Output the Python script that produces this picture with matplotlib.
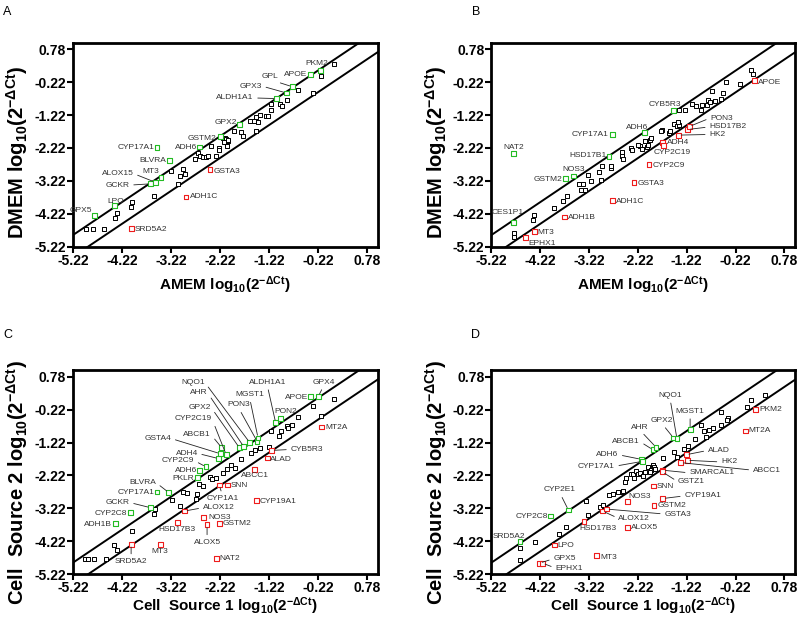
import numpy as np
import matplotlib
matplotlib.use("Agg")
from matplotlib import pyplot as plt

### data ###

TICKS = [-5.22, -4.22, -3.22, -2.22, -1.22, -0.22, 0.78]

# panel A : AMEM vs DMEM
a_other_x = [-4.95, -4.80, -4.58, -4.32, -4.35, -4.04, -4.01, -3.57, -3.21, -3.07, -3.03, -2.98, -2.93,
             -2.67, -2.63, -2.72, -2.57, -2.50, -2.47, -2.30, -2.40, -2.24, -2.24, -2.12, -2.06, -2.08,
             -2.15, -2.09, -2.06, -2.13, -2.07, -1.93, -1.78, -1.74, -1.61, -1.53, -1.49, -1.41, -1.44,
             -1.48, -1.27, -1.23, -1.17, -1.17, -1.00, -0.96, -0.85, -0.63, -0.32, -0.15, 0.11]
a_other_y = [-4.67, -4.67, -4.67, -4.21, -4.36, -4.02, -3.86, -3.68, -2.91, -3.33, -3.06, -2.86, -3.00,
             -2.37, -2.47, -2.55, -2.48, -2.51, -2.47, -2.45, -2.15, -2.22, -2.29, -1.92, -2.02, -2.14,
             -1.92, -1.95, -1.97, -2.04, -2.15, -1.71, -1.73, -1.86, -1.41, -1.41, -1.29, -1.21, -1.44,
             -1.71, -1.26, -1.26, -1.07, -0.88, -0.88, -0.95, -0.77, -0.45, -0.55, -0.02, 0.33]
a_genes = ["GPX5", "LPO", "GCKR", "ALOX15", "MT3", "BLVRA", "CYP17A1", "ADH6", "GSTM2", "GPX2",
           "ALDH1A1", "GPX3", "GPL", "APOE", "PKM2", "SRD5A2", "ADH1C", "GSTA3"]
a_gene_x = [-4.78, -4.37, -3.63, -3.54, -3.42, -3.25, -3.50, -2.63, -2.21, -1.82,
            -1.06, -0.86, -0.74, -0.37, -0.17, -4.03, -2.91, -2.42]
a_gene_y = [-4.27, -3.98, -3.31, -3.26, -3.11, -2.59, -2.21, -2.19, -1.88, -1.51,
            -0.72, -0.55, -0.36, 0.01, 0.13, -4.66, -3.71, -2.88]
a_gene_dir = ["up"] * 15 + ["down"] * 3

# panel B : AMEM vs DMEM
b_other_x = [-4.76, -4.76, -4.34, -4.36, -3.93, -3.76, -3.66, -3.42, -3.34, -3.38, -3.30, -3.23, -3.17,
             -3.01, -2.96, -2.98, -2.76, -2.76, -2.55, -2.55, -2.53, -2.36, -2.34, -2.18, -2.21, -2.08,
             -2.13, -2.04, -2.02, -2.07, -1.97, -1.96, -1.73, -1.59, -1.56, -1.75, -1.49, -1.42, -1.37,
             -1.39, -1.38, -1.25, -1.12, -1.02, -0.91, -0.93, -0.81, -0.78, -0.74, -0.64, -0.71, -0.51,
             -0.47, -0.42, -0.13, 0.09, 0.14]
b_other_y = [-4.80, -4.93, -4.27, -4.40, -4.06, -3.84, -3.69, -3.33, -3.33, -3.51, -3.49, -3.05, -3.23,
             -2.96, -2.78, -3.18, -2.83, -2.76, -2.34, -2.47, -2.57, -2.22, -2.27, -2.17, -2.13, -2.02,
             -2.25, -2.18, -2.12, -2.02, -1.97, -1.92, -1.66, -1.76, -1.69, -1.71, -1.50, -1.55, -1.53,
             -1.43, -1.07, -1.07, -0.88, -0.93, -0.92, -1.07, -0.90, -0.75, -0.83, -0.80, -0.50, -0.72,
             -0.55, -0.23, -0.29, 0.16, 0.04]
b_genes = ["NAT2", "CES1P1", "GSTM2", "NOS3", "HSD17B1", "CYP17A1", "ADH6", "CYB5R3",
           "EPHX1", "MT3", "ADH1B", "ADH1C", "GSTA3", "CYP2C9", "ADH4", "CYP2C19", "HK2",
           "HSD17B2", "PON3", "APOE"]
b_gene_x = [-4.76, -4.76, -3.70, -3.53, -2.81, -2.74, -2.08, -1.49,
            -4.51, -4.34, -3.72, -2.74, -2.30, -1.99, -1.71, -1.70, -1.39, -1.20, -1.17, 0.16]
b_gene_y = [-2.40, -4.48, -3.16, -3.07, -2.48, -1.80, -1.76, -1.08,
            -4.93, -4.75, -4.32, -3.81, -3.26, -2.73, -2.05, -2.15, -1.83, -1.66, -1.57, -0.17]
b_gene_dir = ["up"] * 8 + ["down"] * 12

# panel C : cell source 1 vs cell source 2
c_other_x = [-4.98, -4.91, -4.78, -4.55, -4.37, -4.31, -4.01, -3.54, -3.56, -3.20, -2.98, -2.89, -3.03,
             -2.68, -2.70, -2.65, -2.57, -2.41, -2.38, -2.29, -2.15, -2.07, -2.00, -1.92, -1.78, -1.59,
             -1.51, -1.40, -1.22, -1.17, -1.02, -0.98, -0.85, -0.83, -0.74, -0.62, -0.32, -0.15, 0.11]
c_other_y = [-4.75, -4.75, -4.75, -4.75, -4.33, -4.48, -3.90, -3.24, -3.40, -2.97, -2.72, -2.74, -3.14,
             -2.77, -2.92, -2.49, -2.53, -2.26, -2.34, -2.31, -2.14, -2.01, -1.91, -2.00, -1.71, -1.53,
             -1.46, -1.39, -1.37, -0.88, -1.02, -0.87, -0.72, -0.78, -0.70, -0.45, -0.10, -0.40, 0.11]
c_genes = ["ADH1B", "CYP2C8", "GCKR", "CYP17A1", "BLVRA", "PKLR", "ADH6", "CYP2C9", "ADH4", "GSTA4",
           "ABCB1", "CYP2C19", "GPX2", "AHR", "NQO1", "PON3", "MGST1", "ALDH1A1", "PON2", "APOE", "GPX4",
           "SRD5A2", "MT3", "HSD17B3", "ALOX12", "NOS3", "ALOX5", "NAT2", "GSTM2", "CYP1A1", "SNN",
           "ABCC1", "CYP19A1", "ALAD", "CYB5R3", "MT2A"]
c_gene_x = [-4.35, -4.04, -3.63, -3.50, -3.26, -2.67, -2.63, -2.50, -2.24, -2.21,
            -2.18, -2.09, -1.82, -1.73, -1.61, -1.46, -1.44, -1.08, -0.98, -0.37, -0.21,
            -4.03, -3.43, -3.08, -2.94, -2.55, -2.48, -2.29, -2.23, -2.23, -2.07,
            -1.51, -1.47, -1.25, -1.16, -0.15]
c_gene_y = [-3.68, -3.35, -3.20, -2.72, -2.74, -2.29, -2.06, -1.96, -1.71, -1.56,
            -1.38, -1.59, -1.38, -1.35, -1.22, -1.18, -1.08, -0.62, -0.48, 0.18, 0.18,
            -4.31, -4.31, -3.64, -3.30, -3.50, -3.72, -4.73, -3.67, -2.51, -2.51,
            -2.03, -2.99, -1.69, -1.46, -0.75]
c_gene_dir = ["up"] * 21 + ["down"] * 15

# panel D : cell source 1 vs cell source 2
d_other_x = [-4.63, -4.63, -4.32, -3.83, -3.68, -3.23, -3.28, -3.00, -2.93, -2.80, -2.72, -2.62, -2.55,
             -2.53, -2.48, -2.46, -2.35, -2.32, -2.29, -2.25, -2.21, -2.18, -2.11, -2.08, -2.01, -1.96,
             -1.91, -1.88, -1.98, -1.86, -1.70, -1.49, -1.42, -1.28, -1.20, -1.04, -0.93, -0.86, -0.83,
             -0.76, -0.68, -0.52, -0.38, -0.40, -0.51, 0.02, 0.09, 0.39]
d_other_y = [-4.43, -4.78, -4.25, -3.99, -3.77, -3.42, -3.00, -3.17, -3.12, -2.82, -2.77, -2.72, -2.73,
             -2.70, -2.41, -2.31, -2.19, -2.17, -2.31, -2.09, -2.19, -2.13, -2.24, -2.12, -1.97, -2.05,
             -1.89, -1.97, -2.11, -2.01, -1.69, -1.51, -1.66, -1.43, -1.33, -1.10, -0.70, -0.87, -1.05,
             -0.83, -0.77, -0.70, -0.48, -0.53, -0.30, -0.13, 0.08, 0.21]
d_genes = ["SRD5A2", "CYP2C8", "CYP2E1", "ADH6", "CYP17A1", "ABCB1", "AHR", "GPX2", "NQO1", "MGST1",
           "GPX5", "EPHX1", "LPO", "MT3", "HSD17B3", "ALOX12", "GSTA3", "NOS3", "ALOX5", "GSTM2",
           "SNN", "CYP19A1", "SMARCAL1", "GSTZ1", "ABCC1", "HK2", "ALAD", "MT2A", "PKM2"]
d_gene_x = [-4.63, -4.00, -3.64, -2.15, -2.12, -1.91, -1.85, -1.49, -1.42, -1.15,
            -4.23, -4.17, -3.93, -3.06, -3.32, -2.94, -2.86, -2.43, -2.43, -1.89,
            -1.90, -1.71, -1.71, -1.72, -1.34, -1.21, -1.23, -0.02, 0.18]
d_gene_y = [-4.23, -3.45, -3.27, -1.73, -1.79, -1.44, -1.36, -1.08, -1.10, -0.83,
            -4.88, -4.88, -4.33, -4.66, -3.62, -3.30, -3.24, -3.02, -3.79, -3.12,
            -2.54, -2.92, -2.06, -2.11, -1.83, -1.76, -1.59, -0.87, -0.22]
d_gene_dir = ["up"] * 10 + ["down"] * 19

### label layout: text x, text y, side of the point, leader line ###

a_labels = {
    "GPX5": (-4.83, -4.12, "l", False), "LPO": (-4.34, -3.84, "a", False),
    "SRD5A2": (-3.96, -4.70, "r", False), "GCKR": (-4.06, -3.35, "l", True),
    "ALOX15": (-3.98, -3.00, "l", True), "MT3": (-3.63, -2.93, "a", False),
    "BLVRA": (-3.31, -2.59, "l", False), "CYP17A1": (-3.55, -2.21, "l", False),
    "ADH6": (-2.68, -2.21, "l", False), "GSTM2": (-2.28, -1.92, "l", False),
    "GSTA3": (-2.34, -2.93, "r", False), "ADH1C": (-2.83, -3.71, "r", False),
    "GPX2": (-1.87, -1.44, "l", False), "ALDH1A1": (-1.53, -0.70, "l", True),
    "GPX3": (-1.36, -0.34, "l", True), "GPL": (-1.19, -0.04, "a", True),
    "APOE": (-0.44, 0.01, "l", False), "PKM2": (-0.25, 0.34, "a", False),
}
b_labels = {
    "NAT2": (-4.76, -2.22, "a", False), "CES1P1": (-4.88, -4.17, "a", False),
    "EPHX1": (-4.46, -5.11, "r", False), "MT3": (-4.27, -4.80, "r", False),
    "ADH1B": (-3.64, -4.32, "r", False), "GSTM2": (-3.76, -3.18, "l", False),
    "NOS3": (-3.53, -2.88, "a", False), "HSD17B1": (-2.86, -2.44, "l", False),
    "CYP17A1": (-2.81, -1.80, "l", False), "GSTA3": (-2.23, -3.30, "r", False),
    "ADH1C": (-2.66, -3.84, "r", False), "ADH6": (-2.23, -1.59, "a", False),
    "APOE": (0.24, -0.24, "r", False), "CYB5R3": (-1.66, -0.90, "a", False),
    "PON3": (-0.74, -1.31, "r", True), "HSD17B2": (-0.76, -1.58, "r", True),
    "HK2": (-0.76, -1.81, "r", True), "ADH4": (-1.63, -2.05, "r", False),
    "CYP2C19": (-1.51, -2.35, "b", False), "CYP2C9": (-1.91, -2.76, "r", False),
}
c_labels = {
    "SRD5A2": (-4.03, -4.83, "b", True), "MT3": (-3.45, -4.53, "b", False),
    "ADH1B": (-4.42, -3.70, "l", False), "CYP2C8": (-4.11, -3.37, "l", False),
    "GCKR": (-4.06, -3.04, "l", True), "CYP17A1": (-3.55, -2.73, "l", False),
    "BLVRA": (-3.52, -2.44, "l", True), "ALOX12": (-2.57, -3.20, "r", True),
    "HSD17B3": (-3.09, -3.87, "b", False), "NOS3": (-2.46, -3.50, "r", False),
    "ALOX5": (-2.48, -4.25, "b", True), "GSTM2": (-2.16, -3.67, "r", False),
    "NAT2": (-2.23, -4.75, "r", False), "CYP1A1": (-2.17, -2.92, "b", True),
    "PKLR": (-2.74, -2.31, "l", False), "ADH6": (-2.68, -2.08, "l", False),
    "CYP2C9": (-2.74, -1.77, "l", True), "ADH4": (-2.67, -1.55, "l", True),
    "GSTA4": (-3.21, -1.10, "l", True), "ABCB1": (-2.40, -0.98, "l", True),
    "CYP2C19": (-2.38, -0.50, "l", True), "GPX2": (-2.40, -0.15, "l", True),
    "AHR": (-2.47, 0.29, "l", True), "NQO1": (-2.53, 0.61, "l", True),
    "PON3": (-1.83, -0.08, "a", True), "MGST1": (-1.61, 0.23, "a", True),
    "ALDH1A1": (-1.25, 0.61, "a", True), "GPX4": (-0.10, 0.61, "a", True),
    "APOE": (-0.42, 0.16, "l", False), "PON2": (-0.88, -0.27, "a", False),
    "MT2A": (-0.06, -0.77, "r", False), "CYB5R3": (-0.78, -1.43, "r", True),
    "ALAD": (-1.19, -1.73, "r", False), "ABCC1": (-1.51, -2.23, "b", False),
    "SNN": (-2.00, -2.53, "r", False), "CYP19A1": (-1.40, -3.02, "r", False),
}
d_labels = {
    "SRD5A2": (-4.85, -4.07, "a", False), "CYP2C8": (-4.05, -3.47, "l", False),
    "CYP2E1": (-3.81, -2.66, "a", True), "LPO": (-3.86, -4.35, "r", False),
    "GPX5": (-3.95, -4.75, "r", True), "EPHX1": (-3.91, -5.03, "r", True),
    "MT3": (-2.98, -4.71, "r", False), "HSD17B3": (-3.03, -3.82, "b", False),
    "ALOX12": (-2.62, -3.52, "r", True), "NOS3": (-2.42, -2.87, "r", False),
    "ALOX5": (-2.36, -3.79, "r", False), "ADH6": (-2.62, -1.59, "l", True),
    "CYP17A1": (-2.69, -1.94, "l", True), "ABCB1": (-2.18, -1.19, "l", True),
    "AHR": (-2.17, -0.75, "a", True), "GPX2": (-1.72, -0.55, "a", True),
    "NQO1": (-1.56, 0.21, "a", True), "MGST1": (-1.15, -0.27, "a", True),
    "PKM2": (0.26, -0.22, "r", False), "MT2A": (0.05, -0.87, "r", False),
    "ALAD": (-0.79, -1.46, "r", True), "HK2": (-0.52, -1.81, "r", True),
    "ABCC1": (0.13, -2.06, "r", True), "SMARCAL1": (-1.17, -2.14, "r", True),
    "GSTZ1": (-1.40, -2.41, "r", True), "SNN": (-1.83, -2.54, "r", False),
    "CYP19A1": (-1.27, -2.84, "r", True), "GSTM2": (-1.81, -3.12, "r", False),
    "GSTA3": (-1.68, -3.39, "r", True),
}

### style ###

plt.rcParams["font.family"] = ["Liberation Sans", "DejaVu Sans"]
plt.rcParams["mathtext.fontset"] = "custom"
plt.rcParams["mathtext.rm"] = "Liberation Sans:bold"
plt.rcParams["mathtext.it"] = "Liberation Sans:bold"
plt.rcParams["mathtext.bf"] = "Liberation Sans:bold"
plt.rcParams["mathtext.default"] = "rm"

COLORS = {"up": "#22bb22", "down": "#ee1c1c"}
TEXT_COLOR = "#333333"
UPPER, LOWER = 0.35, -0.31
SIDES = {"l": ("right", (1.0, 0.5)), "r": ("left", (0.0, 0.5)),
         "a": ("center", (0.5, 0.0)), "b": ("center", (0.5, 1.0))}


def draw_panel(ax, ox, oy, genes, gx, gy, gdir, labels, xlabel, ylabel, xpad=3, ylab_y=0.46):
    ax.set_xlim(-5.22, 1.0)
    ax.set_ylim(-5.22, 0.98)
    xs = np.array([-6.0, 2.0])
    ax.plot(xs, xs + UPPER, color="black", lw=1.4, zorder=1)
    ax.plot(xs, xs + LOWER, color="black", lw=1.4, zorder=1)
    ax.scatter(ox, oy, marker="s", s=12, facecolors="white", edgecolors="black",
               linewidths=0.7, zorder=3)
    ax.scatter(gx, gy, marker="s", s=12, facecolors="white",
               edgecolors=[COLORS[d] for d in gdir], linewidths=0.8, zorder=4)
    for name, x, y in zip(genes, gx, gy):
        tx, ty, side, line = labels[name]
        ha, rel = SIDES[side]
        props = None
        if line:
            props = dict(arrowstyle="-", color="#222222", lw=0.6, relpos=rel, shrinkA=1, shrinkB=2)
        ax.annotate(name, xy=(x, y), xytext=(tx, ty), ha=ha, va="center", fontsize=6,
                    color=TEXT_COLOR, arrowprops=props, zorder=5)
    ax.set_xticks(TICKS)
    ax.set_yticks(TICKS)
    ax.set_xticklabels(["%.2f" % t for t in TICKS], fontweight="bold", fontsize=10)
    ax.set_yticklabels(["%.2f" % t for t in TICKS], fontweight="bold", fontsize=10)
    ax.tick_params(direction="out", length=4, width=1.5, pad=1)
    for sp in ax.spines.values():
        sp.set_linewidth(2)
    ax.set_xlabel(xlabel, fontsize=11, fontweight="bold", labelpad=xpad)
    ax.set_ylabel(ylabel, fontsize=14.5, fontweight="bold")
    ax.yaxis.set_label_coords(-0.14, ylab_y)


fig = plt.figure(figsize=(8, 6.19), dpi=100)
ax_a = fig.add_axes([0.091, 0.6015, 0.381, 0.3296])
ax_b = fig.add_axes([0.614, 0.6015, 0.380, 0.3296])
ax_c = fig.add_axes([0.091, 0.0722, 0.381, 0.330])
ax_d = fig.add_axes([0.614, 0.0722, 0.380, 0.330])

units = r"log$_{10}$(2$^{-ΔCt}$)"
draw_panel(ax_a, a_other_x, a_other_y, a_genes, a_gene_x, a_gene_y, a_gene_dir, a_labels,
           "AMEM " + units, "DMEM " + units, xpad=5, ylab_y=0.46)
draw_panel(ax_b, b_other_x, b_other_y, b_genes, b_gene_x, b_gene_y, b_gene_dir, b_labels,
           "AMEM " + units, "DMEM " + units, xpad=5, ylab_y=0.46)
draw_panel(ax_c, c_other_x, c_other_y, c_genes, c_gene_x, c_gene_y, c_gene_dir, c_labels,
           "Cell  Source 1 " + units, "Cell  Source 2 " + units, xpad=0, ylab_y=0.45)
draw_panel(ax_d, d_other_x, d_other_y, d_genes, d_gene_x, d_gene_y, d_gene_dir, d_labels,
           "Cell  Source 1 " + units, "Cell  Source 2 " + units, xpad=0, ylab_y=0.45)

for letter, x, y in [("A", 0.004, 0.981), ("B", 0.590, 0.981), ("C", 0.004, 0.459), ("D", 0.589, 0.459)]:
    fig.text(x, y, letter, fontsize=9, va="center")

fig.savefig("out.png", dpi=100)
